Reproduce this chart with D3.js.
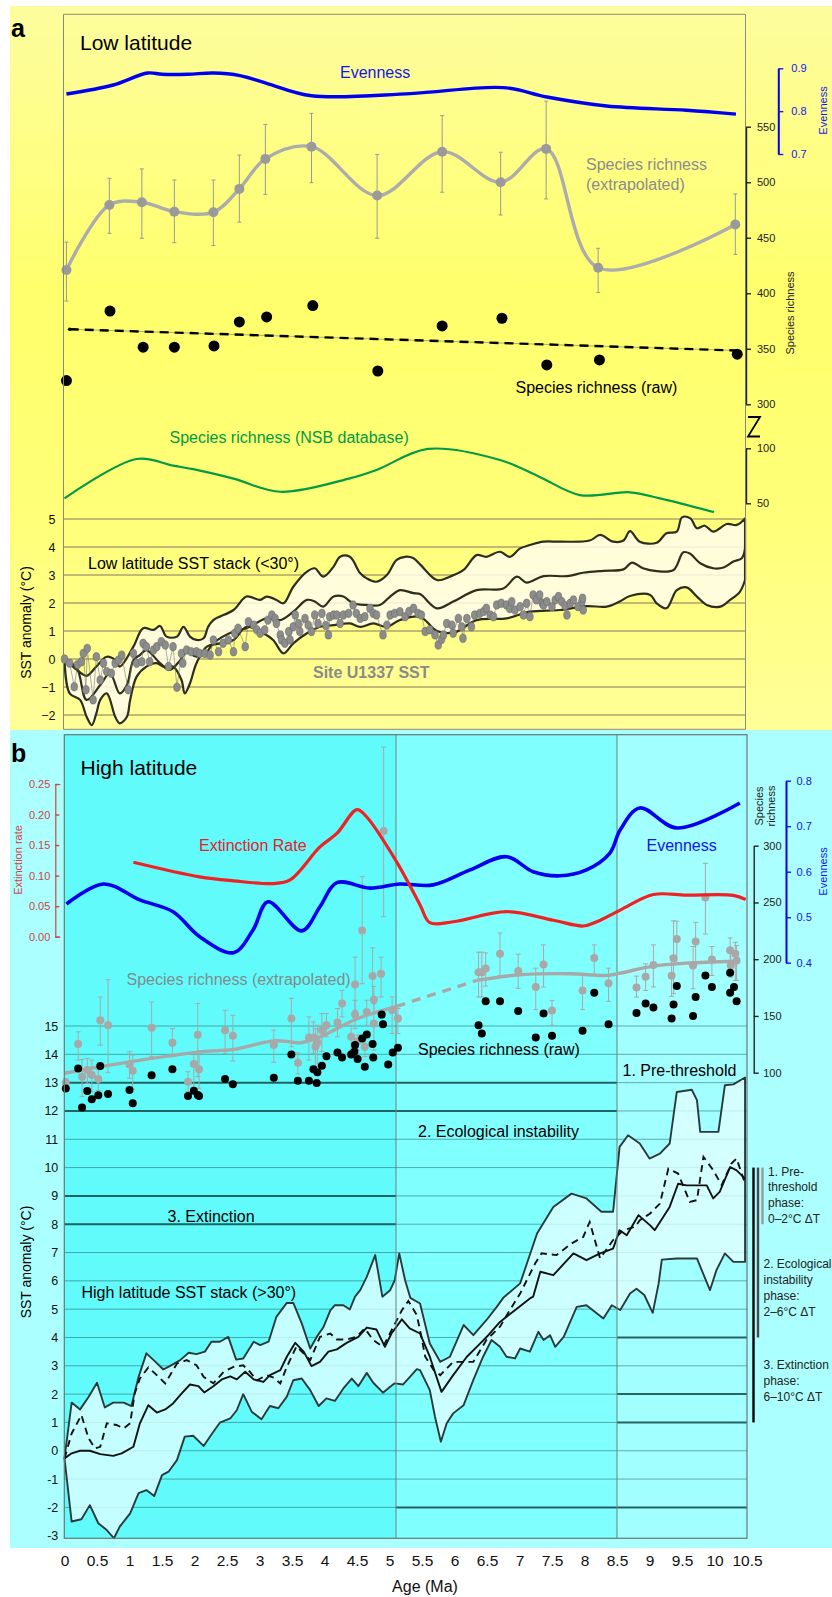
<!DOCTYPE html>
<html>
<head>
<meta charset="utf-8">
<script src="https://cdn.jsdelivr.net/npm/d3@7"></script>
<style>
  body { margin: 0; background: #fff; }
  svg { display: block; font-family: "Liberation Sans", Arial, Helvetica, sans-serif; }
</style>
</head>
<body>
<svg id="chart" width="832" height="1597"></svg>
<script>
// ===================== DATA =====================
const ageTicks = [0,0.5,1,1.5,2,2.5,3,3.5,4,4.5,5,5.5,6,6.5,7,7.5,8,8.5,9,9.5,10,10.5];

// ---- (a) Low latitude ----
const lowEvenness = [[0.03,0.840],[0.75,0.861],[1.28,0.889],[1.5,0.886],[1.9,0.886],[2.29,0.889],[2.70,0.883],[3.11,0.865],[3.80,0.836],[5.32,0.841],[6.75,0.855],[7.42,0.833],[8.34,0.812],[9.57,0.802],[10.33,0.793]];
// age, richness, lower, upper
const lowRichExtrap = [[0.03,421,393,446],[0.69,479.5,454,503.5],[1.19,482,449.5,512],[1.69,473.5,445.6,502],[2.29,473,443,502],[2.69,494,464,524.5],[3.09,521,489,552],[3.80,532,499.6,562],[4.81,488,449.5,525],[5.81,527.5,491,560],[6.71,500,470.5,527],[7.41,530,485,573],[8.21,423,400.6,440.5],[10.32,462,435,489.5]];
const lowRichRaw = [[0.03,321.4],[0.70,384],[1.21,351.4],[1.69,351.4],[2.30,352.6],[2.69,374.2],[3.11,378.7],[3.82,388.9],[4.82,330],[5.81,370.6],[6.73,377.5],[7.42,335.5],[8.23,340],[10.35,345.1]];
const lowRawTrend = [[0.08,367.6],[10.35,348.4]];
const nsbRichness = [[0,54.5],[1.11,90.3],[1.67,84.2],[1.98,81],[2.6,72.4],[3.32,60.5],[4.39,72.7],[4.8,80.3],[5.59,99.4],[6.7,89.4],[7.31,74],[7.93,57.5],[8.7,60],[9.16,54.5],[9.99,42]];
const richTicksA = [300,350,400,450,500,550];
const nsbTicksA = [50,100];
const evenTicksA = [0.7,0.8,0.9];
const sstTicksA = [-2,-1,0,1,2,3,4,5];

const lowSstUpper = [[0,0],[0.19,-0.39],[0.34,-0.60],[0.49,-0.27],[0.65,0.08],[0.78,-0.04],[0.85,-0.27],[1.06,0.44],[1.21,1.10],[1.37,1.04],[1.47,1.18],[1.57,0.80],[1.73,0.80],[1.83,1.15],[1.93,0.80],[2.03,0.68],[2.14,0.74],[2.21,1.15],[2.29,1.39],[2.60,1.75],[2.80,2.23],[3.01,2.11],[3.11,2.23],[3.26,2.11],[3.37,1.99],[3.52,2.58],[3.73,3.12],[3.85,3.24],[3.98,2.94],[4.14,3.30],[4.24,3.65],[4.39,3.65],[4.55,3.06],[4.65,2.88],[4.80,2.76],[4.96,3.00],[5.11,3.54],[5.24,3.65],[5.37,3.60],[5.47,3.38],[5.73,2.82],[5.93,2.94],[6.14,3.18],[6.34,3.71],[6.49,3.65],[6.70,3.83],[6.85,3.65],[7.01,3.95],[7.16,4.07],[7.37,4.19],[7.62,4.19],[8.08,4.23],[8.24,4.43],[8.44,4.19],[8.60,4.23],[8.70,4.57],[8.85,4.19],[9.11,4.15],[9.26,4.49],[9.42,4.55],[9.50,5.06],[9.63,5.02],[9.73,4.67],[9.85,4.76],[9.98,4.55],[10.19,4.82],[10.34,4.79],[10.47,5.02]];
const lowSstMiddle = [[0,0],[0.19,-0.33],[0.34,-1.46],[0.55,-0.93],[0.70,-0.51],[0.85,-1.23],[0.96,-0.93],[1.06,-0.04],[1.16,0.14],[1.26,0.32],[1.47,-0.15],[1.62,-0.39],[1.78,-0.04],[1.88,0.26],[2.03,0.08],[2.19,0.26],[2.29,0.56],[2.60,0.98],[2.80,1.10],[3.11,1.45],[3.32,1.39],[3.52,1.69],[3.73,2.11],[3.85,2.05],[3.98,1.87],[4.14,2.23],[4.29,2.23],[4.44,1.99],[4.65,1.93],[4.85,1.93],[5.01,2.23],[5.16,2.46],[5.37,2.35],[5.47,2.32],[5.73,1.81],[5.98,2.05],[6.34,2.46],[6.75,2.52],[6.96,2.94],[7.11,2.73],[7.37,2.96],[7.73,2.96],[7.98,3.08],[8.29,3.15],[8.60,3.20],[8.73,3.44],[8.90,3.24],[9.11,3.14],[9.37,3.18],[9.52,3.81],[9.62,3.77],[9.78,3.42],[9.98,3.24],[10.14,3.27],[10.29,3.48],[10.42,3.60],[10.47,3.95]];
const lowSstLower = [[0,0],[0.08,-1.23],[0.24,-1.46],[0.34,-2.06],[0.42,-2.36],[0.49,-1.94],[0.55,-1.46],[0.65,-1.23],[0.78,-2.06],[0.85,-2.30],[0.96,-2.06],[1.01,-1.46],[1.11,-0.63],[1.26,-0.27],[1.42,-0.15],[1.52,-0.27],[1.67,-0.27],[1.80,-0.75],[1.85,-1.23],[1.93,-0.87],[2.03,-0.15],[2.19,0.44],[2.39,0.56],[2.60,0.68],[2.80,1.15],[3.06,0.92],[3.21,0.68],[3.37,0.20],[3.52,0.56],[3.73,0.92],[3.93,1.15],[4.14,1.21],[4.39,1.27],[4.55,1.15],[4.75,1.27],[4.96,1.15],[5.16,1.39],[5.47,1.51],[5.73,1.0],[6.0,0.95],[6.34,1.39],[6.80,1.45],[7.16,1.69],[7.62,1.75],[8.03,1.89],[8.34,1.87],[8.54,2.05],[8.70,2.25],[9.01,2.29],[9.11,1.99],[9.26,1.81],[9.42,2.46],[9.57,2.56],[9.73,2.23],[9.88,1.93],[10.09,1.87],[10.24,2.11],[10.39,2.40],[10.47,2.82]];
const u1337Sst = [[0,0],[0.08,-0.15],[0.15,-0.99],[0.2,-0.2],[0.26,-0.1],[0.29,0.2],[0.33,-1.1],[0.35,0.38],[0.44,-1.46],[0.49,0.08],[0.55,-0.75],[0.6,-0.15],[0.65,-0.45],[0.72,-0.51],[0.78,-0.15],[0.83,-0.04],[0.88,0.14],[0.98,-1.1],[1.06,0.2],[1.11,-0.15],[1.19,-0.1],[1.21,0.56],[1.26,0.44],[1.31,-0.1],[1.37,0.32],[1.42,0.44],[1.49,0.62],[1.55,0.5],[1.6,-0.27],[1.67,0.44],[1.73,-1.01],[1.8,0.2],[1.82,-0.15],[1.88,0.32],[1.95,0.26],[2.03,0.26],[2.08,0.2],[2.16,0.2],[2.24,0.14],[2.29,0.68],[2.37,0.26],[2.44,0.56],[2.52,0.68],[2.6,0.26],[2.62,0.92],[2.67,1.1],[2.78,0.44],[2.83,1.33],[2.91,1.21],[2.96,1.04],[3.01,0.92],[3.08,1.04],[3.13,1.39],[3.19,1.57],[3.24,1.45],[3.26,1.27],[3.32,0.86],[3.34,0.68],[3.39,0.56],[3.45,0.98],[3.47,0.68],[3.52,1.15],[3.55,1.57],[3.6,1.27],[3.62,0.98],[3.7,1.45],[3.75,1.21],[3.8,0.98],[3.85,1.57],[3.9,1.27],[3.96,1.63],[4.02,1.2],[4.06,0.86],[4.08,1.51],[4.14,1.57],[4.19,1.57],[4.24,1.27],[4.29,1.57],[4.37,1.63],[4.44,1.93],[4.49,1.63],[4.55,1.45],[4.62,1.51],[4.7,1.81],[4.75,1.63],[4.8,1.57],[4.9,0.86],[4.96,1.21],[5.01,1.57],[5.08,1.63],[5.16,1.69],[5.24,1.51],[5.3,1.7],[5.37,1.81],[5.44,1.63],[5.49,1.57],[5.55,0.98],[5.62,1.04],[5.7,0.86],[5.75,0.5],[5.8,0.7],[5.83,0.86],[5.88,1.27],[5.96,1.21],[5.98,0.92],[6.06,1.45],[6.11,1.15],[6.13,0.74],[6.19,1.45],[6.26,1.15],[6.31,1.57],[6.39,1.63],[6.45,1.7],[6.49,1.81],[6.55,1.57],[6.6,1.51],[6.65,1.93],[6.72,1.99],[6.8,1.93],[6.85,1.8],[6.88,2.05],[6.93,1.75],[7.01,1.87],[7.06,1.57],[7.11,1.99],[7.16,1.51],[7.21,2.29],[7.26,2.11],[7.31,2.29],[7.35,2.0],[7.37,1.93],[7.42,2.05],[7.5,1.87],[7.55,2.11],[7.6,2.23],[7.65,2.05],[7.7,1.9],[7.73,1.57],[7.78,1.99],[7.83,2.11],[7.9,1.87],[7.96,2.05],[7.97,2.17],[7.98,1.75]];

// ---- (b) High latitude ----
const highExtinction = [[1.06,0.122],[2.08,0.098],[2.60,0.0915],[3.21,0.087],[3.47,0.093],[3.93,0.147],[4.19,0.169],[4.50,0.208],[4.65,0.196],[5.11,0.1225],[5.47,0.052],[5.62,0.023],[5.98,0.0245],[6.80,0.041],[7.52,0.027],[7.98,0.0175],[8.19,0.0245],[8.55,0.0436],[9.06,0.069],[9.57,0.068],[10.29,0.0676],[10.48,0.061]];
const highEvenness = [[0.03,0.529],[0.6,0.573],[1.16,0.538],[1.67,0.512],[2.08,0.457],[2.6,0.422],[2.9,0.472],[3.13,0.534],[3.65,0.470],[3.93,0.523],[4.19,0.576],[4.7,0.564],[5.16,0.573],[5.67,0.571],[6.24,0.604],[6.8,0.633],[7.21,0.600],[7.62,0.591],[8.03,0.604],[8.39,0.641],[8.55,0.692],[8.85,0.74],[9.42,0.696],[10.39,0.751]];
// age, richness, lower, upper
const highRichExtrap = [[0.02,91.2,87.2,94.8],[0.21,125.2,111.1,136.0],[0.27,96.5,79.0,111.7],[0.35,102.4,90.7,112.6],[0.42,98.0,83.1,111.1],[0.52,94.5,84.2,102.4],[0.55,146.2,124.3,166.7],[0.67,141.8,100,181.9],[1.00,107.3,95.1,118.5],[1.05,101.8,85.4,115.5],[1.34,139.5,114.1,162.3],[1.66,126.3,114.1,138.9],[1.90,92.1,83.4,100.9],[1.99,107.6,84.8,118.5],[2.05,133.4,96.5,160.9],[2.07,103.0,86.3,117.0],[2.47,137.5,117.0,155.0],[2.59,132.5,110.3,150.6],[3.22,124.3,109.1,137.5],[3.49,147.7,122.8,165.5],[3.59,108.8,98.9,117.6],[3.76,131.0,111.1,149.2],[3.83,131.0,117.0,144.8],[3.86,122.8,105.3,138.9],[3.89,126.6,105.3,141.8],[3.96,137.5,118.5,152.1],[4.03,141.8,131.6,152.1],[4.20,144.2,131.6,156.5],[4.27,160.9,149.2,172.6],[4.41,131.6,119.9,141.8],[4.47,151.2,138.9,163.8],[4.47,177.8,155.0,201.9],[4.51,127.8,119.9,133.1],[4.58,225.2,178.4,272.8],[4.62,122.8,114.1,131.6],[4.65,153.5,141.8,163.8],[4.74,185.1,163.2,210.0],[4.76,143.3,119.9,160.9],[4.76,164.3,152,176],[4.87,187.2,166.7,201.8],[4.91,312.9,237.4,386.9],[5.04,155.0,134.5,166.7],[5.13,147.7,134.5,156.5],[6.37,188.6,166.7,206.2],[6.42,188.6,166.7,206.2],[6.48,191.8,176.3,205.6],[6.70,204.7,185.7,223.1],[6.98,189.5,174.3,204.4],[7.25,175.5,155.6,192.1],[7.37,195.3,175.5,212.6],[7.50,154.9,141.8,163.7],[7.97,172.4,155.6,187.0],[8.15,201.0,185.7,212.6],[8.37,178.8,162.9,192.1],[8.80,175.0,166.6,185.1],[8.94,184.6,172.5,195.9],[9.06,194.8,175.5,212.6],[9.34,185.4,167.3,202.4],[9.37,200.9,169.6,233.8],[9.42,217.8,195.9,233.5],[9.67,194.5,174.0,211.2],[9.71,215.5,195.9,232.5],[9.86,254.4,222.2,284.5],[9.96,199.7,185.7,211.2],[10.24,207.9,197.4,218.7],[10.25,194.5,184.2,206.2],[10.32,204.7,181.3,214.9],[10.34,198.8,181.3,212.0]];
const highRichRaw = [[0.02,86.0],[0.21,103.8],[0.27,69.3],[0.35,83.9],[0.42,76.6],[0.52,80.1],[0.55,105.9],[0.67,81.3],[1.0,84.8],[1.05,73.1],[1.34,97.7],[1.66,103.0],[1.90,79.5],[1.99,84.2],[2.05,80.4],[2.07,79.5],[2.47,94.5],[2.59,89.8],[3.22,95.6],[3.49,116.1],[3.59,93.0],[3.76,93.0],[3.83,103.0],[3.88,91.0],[3.89,100.3],[3.96,106.2],[4.03,114.6],[4.20,117.9],[4.27,113.5],[4.41,116.1],[4.46,118.5],[4.47,124.3],[4.51,112.0],[4.58,130.1],[4.65,133.7],[4.62,105.3],[4.74,125.2],[4.75,113.5],[4.88,151.2],[4.90,142.7],[4.98,107.3],[5.05,117.9],[5.13,122.0],[6.37,141.8],[6.42,134.5],[6.48,162.9],[6.70,162.9],[6.98,154.3],[7.25,131.0],[7.37,152.2],[7.50,132.5],[7.97,136.9],[8.15,170.5],[8.37,142.7],[8.80,152.7],[8.94,160.9],[9.06,157.4],[9.34,147.7],[9.37,160.0],[9.42,176.3],[9.67,150.0],[9.71,166.7],[9.86,185.7],[9.96,175.4],[10.24,188.0],[10.24,170.5],[10.30,175.4],[10.34,162.9]];
const highRichTrend = [[0,99.5],[0.55,105.3],[2.08,118.4],[2.6,120.5],[3.21,128],[3.47,127.2],[3.62,126.3],[3.93,131.6],[4.39,144.7],[4.65,150.6],[5.11,158.5],[6.34,181.3],[7.01,186.3],[7.78,187.2],[8.34,185.7],[8.55,187.7],[9.06,193.9],[9.57,196.5],[10.33,198.2]];
const trendGap = [5.11, 6.34];   // interval drawn dashed
const extTicksB = [0,0.05,0.10,0.15,0.20,0.25];
const evenTicksB = [0.4,0.5,0.6,0.7,0.8];
const richTicksB = [100,150,200,250,300];
const sstTicksB = [-3,-2,-1,0,1,2,3,4,5,6,7,8,9,10,11,12,13,14,15];

const highSstUpper = [[0,-0.27],[0.11,1.70],[0.24,1.46],[0.37,1.90],[0.50,2.40],[0.62,1.53],[0.75,1.70],[0.91,1.70],[1.03,1.58],[1.14,2.61],[1.26,3.44],[1.40,3.14],[1.52,2.87],[1.62,2.99],[1.78,3.20],[1.91,3.46],[2.03,3.41],[2.16,3.50],[2.26,3.85],[2.39,3.85],[2.52,4.02],[2.64,3.22],[2.75,3.26],[2.91,3.85],[3.01,3.73],[3.14,3.85],[3.26,4.73],[3.42,5.22],[3.52,5.22],[3.65,4.50],[3.78,3.61],[3.88,4.02],[3.98,4.35],[4.09,4.96],[4.16,5.14],[4.29,5.14],[4.39,4.99],[4.47,5.44],[4.55,5.67],[4.65,6.14],[4.78,6.91],[4.89,5.44],[5.01,5.67],[5.08,6.02],[5.15,6.97],[5.24,6.02],[5.32,5.4],[5.47,5.20],[5.62,3.79],[5.78,3.14],[5.93,3.32],[6.14,4.44],[6.29,4.08],[6.49,4.61],[6.65,5.08],[6.75,5.40],[7.01,5.91],[7.27,7.67],[7.52,8.61],[7.80,9.08],[8.03,8.91],[8.26,8.44],[8.44,8.44],[8.54,10.73],[8.67,11.14],[8.85,10.85],[9.00,10.32],[9.16,10.49],[9.31,10.85],[9.42,12.67],[9.65,12.75],[9.73,12.38],[9.78,11.26],[10.06,11.26],[10.16,12.91],[10.29,12.94],[10.47,13.18]];
const highSstMiddle = [[0,-0.27],[0.11,-0.09],[0.24,0],[0.39,0],[0.55,-0.12],[0.75,-0.18],[0.88,-0.09],[1.06,0.14],[1.16,0.97],[1.29,1.61],[1.42,1.35],[1.55,1.46],[1.67,1.67],[1.80,2.02],[1.93,2.34],[2.06,2.28],[2.15,2.06],[2.29,2.28],[2.42,2.52],[2.55,2.63],[2.65,2.52],[2.78,2.79],[2.91,2.52],[3.06,2.43],[3.16,2.67],[3.32,2.85],[3.42,3.32],[3.55,3.81],[3.68,3.50],[3.80,2.99],[3.93,3.14],[4.06,3.50],[4.19,3.58],[4.34,3.81],[4.52,4.02],[4.65,4.35],[4.80,4.28],[4.93,3.67],[5.03,4.14],[5.19,4.64],[5.31,4.32],[5.47,4.14],[5.62,3.32],[5.80,2.08],[5.98,2.67],[6.19,3.32],[6.37,3.73],[6.52,4.08],[6.70,4.55],[6.90,4.91],[7.16,5.38],[7.21,5.44],[7.32,6.32],[7.52,6.20],[7.83,6.97],[8.03,6.73],[8.24,6.97],[8.44,7.14],[8.54,7.79],[8.65,7.61],[8.83,8.32],[9.01,7.96],[9.08,7.79],[9.31,8.61],[9.44,9.43],[9.57,9.37],[9.88,9.37],[9.98,8.91],[10.08,9.14],[10.24,10.02],[10.34,9.90],[10.47,9.61]];
const highSstDashed = [[0,-0.27],[0.11,0.61],[0.26,1.26],[0.37,0.44],[0.47,0.08],[0.55,0.14],[0.65,0.97],[0.80,0.91],[0.91,0.79],[1.01,0.97],[1.08,2.02],[1.16,2.55],[1.29,2.94],[1.42,2.67],[1.55,2.38],[1.73,3.08],[1.88,3.20],[2.03,3.02],[2.14,2.61],[2.29,2.38],[2.45,2.79],[2.60,2.96],[2.75,3.02],[2.85,2.79],[2.96,2.49],[3.11,2.67],[3.22,2.58],[3.32,2.38],[3.42,2.96],[3.57,3.69],[3.78,3.20],[3.93,4.02],[4.09,4.14],[4.19,3.93],[4.34,3.93],[4.49,4.02],[4.62,4.32],[4.75,3.91],[4.90,3.67],[5.06,4.38],[5.19,4.96],[5.29,5.29],[5.42,4.79],[5.47,4.26],[5.55,3.32],[5.68,2.85],[5.78,2.67],[5.98,3.14],[6.29,3.14],[6.49,3.91],[6.70,4.38],[6.85,4.96],[7.01,5.55],[7.24,6.61],[7.34,6.97],[7.57,6.91],[7.80,7.32],[7.98,7.55],[8.08,8.08],[8.24,6.79],[8.44,7.44],[8.60,7.79],[8.78,7.91],[8.85,8.14],[9.01,8.38],[9.16,8.73],[9.29,9.96],[9.44,9.79],[9.62,8.79],[9.73,8.85],[9.83,10.38],[9.98,9.91],[10.11,9.38],[10.26,10.14],[10.34,10.32],[10.47,9.44]];
const highSstLower = [[0,-0.27],[0.11,-2.50],[0.26,-2.42],[0.39,-1.92],[0.52,-2.56],[0.65,-2.80],[0.76,-3.09],[0.85,-2.68],[1.01,-2.21],[1.14,-1.50],[1.26,-1.39],[1.38,-1.60],[1.50,-0.86],[1.60,-0.74],[1.73,-0.33],[1.85,0.50],[1.98,0.53],[2.14,0.17],[2.29,0.67],[2.39,0.99],[2.55,1.14],[2.65,1.43],[2.75,2.00],[2.88,1.38],[3.03,1.11],[3.16,1.58],[3.29,1.50],[3.42,1.91],[3.52,2.49],[3.65,2.55],[3.78,2.14],[3.91,1.58],[4.03,1.85],[4.16,1.76],[4.29,2.20],[4.42,2.55],[4.52,2.28],[4.65,2.75],[4.75,2.40],[4.90,2.05],[5.01,2.26],[5.08,2.38],[5.21,2.34],[5.29,2.55],[5.42,2.88],[5.47,2.85],[5.62,2.14],[5.70,1.20],[5.79,0.32],[5.88,0.97],[5.98,1.32],[6.14,1.61],[6.29,2.50],[6.44,3.32],[6.57,3.91],[6.70,3.67],[6.80,3.32],[6.93,3.26],[7.01,3.61],[7.16,3.50],[7.29,4.20],[7.37,3.91],[7.47,4.08],[7.55,3.67],[7.68,4.02],[7.88,5.08],[8.03,5.14],[8.29,4.67],[8.42,5.14],[8.55,4.97],[8.70,5.55],[8.80,5.72],[8.92,5.5],[9.05,4.87],[9.14,5.9],[9.19,6.75],[9.42,6.79],[9.73,6.79],[9.93,5.67],[10.03,6.38],[10.16,6.97],[10.29,6.67],[10.47,6.67]];

// period boundaries (Ma) and threshold guide lines in (b): SST, from age, to age
const periodBreaks = [5.1, 8.5];
const thresholdLines = [[13,0,8.5],[12,0,8.5],[9,0,5.1],[8,0,5.1],[4,8.5,10.5],[2,8.5,10.5],[1,8.5,10.5],[-2,5.1,10.5]];
// phase bars: SST top, SST bottom
const phaseBars = [[10,1],[10,4],[10,8]];

// ===================== DRAWING =====================
const svg = d3.select("#chart");
const FONT = "'Liberation Sans', Arial, Helvetica, sans-serif";

const x = d3.scaleLinear().domain([0,10.5]).range([64.5,747]);

// panel (a) scales
const yRichA = d3.scaleLinear().domain([300,550]).range([404.3,126.7]);
const yNsbA  = d3.scaleLinear().domain([50,100]).range([503.3,448.3]);
const yEvenA = d3.scaleLinear().domain([0.7,0.9]).range([154,68.3]);
const ySstA  = d3.scaleLinear().domain([-2.5,5]).range([729,519]);

// panel (b) scales
const yExtB  = d3.scaleLinear().domain([0,0.25]).range([936.7,784]);
const yEvenB = d3.scaleLinear().domain([0.4,0.8]).range([962.7,780.7]);
const yRichB = d3.scaleLinear().domain([100,300]).range([1072.7,845.7]);
const ySstB  = d3.scaleLinear().domain([-3,15]).range([1535.7,1026]);

const smooth = d3.curveCatmullRom.alpha(0.5);
const lineOf = (ys, curve) => d3.line().x(d => x(d[0])).y(d => ys(d[1])).curve(curve || smooth);

// ---------- backgrounds ----------
const defs = svg.append("defs");
const gA = defs.append("linearGradient").attr("id","bgA").attr("x1",0).attr("y1",0).attr("x2",0).attr("y2",1);
[["0%","#fdfd9e"],["40%","#ffff6c"],["70%","#ffff78"],["100%","#ffff98"]].forEach(s =>
  gA.append("stop").attr("offset", s[0]).attr("stop-color", s[1]));
svg.append("rect").attr("x",10).attr("y",6).attr("width",822).attr("height",724).attr("fill","url(#bgA)");
svg.append("rect").attr("x",10).attr("y",730).attr("width",822).attr("height",818).attr("fill","#acffff");

const bTop = 734.7, bBot = 1538.3;
const sections = [[0,periodBreaks[0],"#62fbfb"],[periodBreaks[0],periodBreaks[1],"#80ffff"],[periodBreaks[1],10.5,"#a2ffff"]];
svg.append("g").selectAll("rect").data(sections).join("rect")
  .attr("x", d => x(d[0])).attr("y", bTop)
  .attr("width", d => x(d[1]) - x(d[0])).attr("height", bBot - bTop)
  .attr("fill", d => d[2]);

// ================= PANEL A =================
const gAp = svg.append("g");

// SST grid
gAp.append("g").selectAll("line").data(sstTicksA).join("line")
  .attr("x1", 63.5).attr("x2", 745.5)
  .attr("y1", d => ySstA(d)).attr("y2", d => ySstA(d))
  .attr("stroke", "#ada36c").attr("stroke-width", 1.3);

// SST stack band
const lineSstA = lineOf(ySstA);
const bandA = lineSstA(lowSstUpper) + lineSstA(lowSstLower.slice().reverse()).replace(/^M/, "L") + "Z";
gAp.append("path").attr("d", bandA).attr("fill", "rgba(255,253,234,0.85)")
  .attr("stroke", "#2e2e1e").attr("stroke-width", 2.2).attr("stroke-linejoin","round");
gAp.append("path").attr("d", lineSstA(lowSstMiddle)).attr("fill","none")
  .attr("stroke", "#2e2e1e").attr("stroke-width", 2.2);

// U1337 record
gAp.append("path").attr("d", d3.line().x(d => x(d[0])).y(d => ySstA(d[1]))(u1337Sst))
  .attr("fill","none").attr("stroke","#777").attr("stroke-width",0.6);
gAp.append("g").selectAll("ellipse").data(u1337Sst).join("ellipse")
  .attr("cx", d => x(d[0])).attr("cy", d => ySstA(d[1]))
  .attr("rx", 3.3).attr("ry", 4.2)
  .attr("fill", "#8c8c8c").attr("stroke","#6a6a6a").attr("stroke-width",0.6);

// evenness
gAp.append("path").attr("d", lineOf(yEvenA)(lowEvenness)).attr("fill","none")
  .attr("stroke","#0000ee").attr("stroke-width",3.4);

// extrapolated richness
gAp.append("path").attr("d", lineOf(yRichA)(lowRichExtrap)).attr("fill","none")
  .attr("stroke","#acacac").attr("stroke-width",3.4);
const ebA = gAp.append("g").attr("stroke","#9a9a9a").attr("stroke-width",1);
ebA.selectAll(".v").data(lowRichExtrap).join("line")
  .attr("x1", d => x(d[0])).attr("x2", d => x(d[0]))
  .attr("y1", d => yRichA(d[2])).attr("y2", d => yRichA(d[3]));
ebA.selectAll(".t").data(lowRichExtrap.flatMap(d => [[d[0],d[2]],[d[0],d[3]]])).join("line")
  .attr("x1", d => x(d[0]) - 2).attr("x2", d => x(d[0]) + 2)
  .attr("y1", d => yRichA(d[1])).attr("y2", d => yRichA(d[1]));
gAp.append("g").selectAll("circle").data(lowRichExtrap).join("circle")
  .attr("cx", d => x(d[0])).attr("cy", d => yRichA(d[1])).attr("r", 5)
  .attr("fill","#9a9a9a");

// raw richness + trend
gAp.append("path").attr("d", d3.line().x(d => x(d[0])).y(d => yRichA(d[1]))(lowRawTrend))
  .attr("stroke","#9a9a60").attr("stroke-width",0.8).attr("fill","none");
gAp.append("path").attr("d", d3.line().x(d => x(d[0])).y(d => yRichA(d[1]))(lowRawTrend))
  .attr("stroke","#000").attr("stroke-width",2.4).attr("stroke-dasharray","9,6").attr("fill","none");
gAp.append("circle").attr("cx", x(lowRawTrend[0][0])).attr("cy", yRichA(lowRawTrend[0][1])).attr("r",1.8).attr("fill","#000");
gAp.append("g").selectAll("circle").data(lowRichRaw).join("circle")
  .attr("cx", d => x(d[0])).attr("cy", d => yRichA(d[1])).attr("r", 5.5).attr("fill","#000");

// NSB
gAp.append("path").attr("d", lineOf(yNsbA)(nsbRichness)).attr("fill","none")
  .attr("stroke","#009a44").attr("stroke-width",2.2);

// frame of panel a
gAp.append("path").attr("d", "M63.5,729.3V14.3H745.5V729.3H63.5")
  .attr("fill","none").attr("stroke","#8a8a7a").attr("stroke-width",1);

// texts panel a
const txt = (g, s, xx, yy, size, color, weight, anchor) =>
  g.append("text").attr("x", xx).attr("y", yy).attr("font-size", size).attr("fill", color || "#000")
   .attr("font-weight", weight || "normal").attr("text-anchor", anchor || "start").text(s);
const rtxt = (g, s, xx, yy, size, color) =>
  g.append("text").attr("transform", `translate(${xx},${yy}) rotate(-90)`).attr("text-anchor","middle")
   .attr("font-size", size).attr("fill", color || "#000").text(s);

txt(svg, "a", 11, 37, 25, "#000", "bold");
txt(gAp, "Low latitude", 80, 50, 21);
txt(gAp, "Evenness", 340, 78, 16, "#1414f0");
txt(gAp, "Species richness", 586, 170, 16, "#8c8c8c");
txt(gAp, "(extrapolated)", 586, 189.5, 16, "#8c8c8c");
txt(gAp, "Species richness (raw)", 515.5, 392.5, 16, "#000");
txt(gAp, "Species richness (NSB database)", 169.5, 442.5, 16, "#009a44");
txt(gAp, "Low latitude SST stack (<30°)", 88, 569, 16, "#000");
txt(gAp, "Site U1337 SST", 313, 678, 16, "#8a8a8a", "bold");
rtxt(gAp, "SST anomaly (°C)", 31, 622.5, 14);
rtxt(gAp, "Species richness", 794, 313, 11, "#222");
rtxt(gAp, "Evenness", 826.5, 110.5, 11, "#1414f0");

// axes panel a
function styleAxis(g, color, fs) {
  g.selectAll("path.domain").attr("stroke", color).attr("stroke-width", 1.4);
  g.selectAll(".tick line").attr("stroke", color).attr("stroke-width", 1.4);
  g.selectAll(".tick text").attr("fill", color).attr("font-size", fs).attr("font-family", FONT);
}
const axRA = svg.append("g").attr("transform","translate(746,0)")
  .call(d3.axisRight(yRichA).tickValues(richTicksA).tickSize(5).tickSizeOuter(0).tickPadding(6).tickFormat(d3.format("d")));
styleAxis(axRA, "#222", 11);
const axNA = svg.append("g").attr("transform","translate(746,0)")
  .call(d3.axisRight(yNsbA).tickValues(nsbTicksA).tickSize(5).tickSizeOuter(0).tickPadding(6).tickFormat(d3.format("d")));
styleAxis(axNA, "#222", 11);
// axis break mark
svg.append("path").attr("d", "M748,417H760L748,436.5H760").attr("fill","none").attr("stroke","#000").attr("stroke-width",1.8);
const axEA = svg.append("g").attr("transform","translate(778.3,0)")
  .call(d3.axisRight(yEvenA).tickValues(evenTicksA).tickSize(5).tickSizeOuter(0).tickPadding(8).tickFormat(d3.format(".1f")));
styleAxis(axEA, "#1414f0", 11);
axEA.selectAll("path.domain").attr("stroke","#0000ee").attr("stroke-width",2);
const axSA = svg.append("g").attr("transform","translate(63.5,0)")
  .call(d3.axisLeft(ySstA).tickValues(sstTicksA).tickSize(0).tickPadding(8));
axSA.select("path.domain").remove();
axSA.selectAll("text").attr("font-size",12.5).attr("fill","#111").attr("font-family",FONT);

// ================= PANEL B =================
const gB = svg.append("g");

// grid
gB.append("g").selectAll("line").data(sstTicksB.filter(d => d > -3)).join("line")
  .attr("x1", 64.3).attr("x2", 747)
  .attr("y1", d => ySstB(d)).attr("y2", d => ySstB(d))
  .attr("stroke", "rgba(30,90,90,0.5)").attr("stroke-width", 1);
gB.append("g").selectAll("line").data(thresholdLines).join("line")
  .attr("x1", d => x(d[1])).attr("x2", d => x(d[2]))
  .attr("y1", d => ySstB(d[0])).attr("y2", d => ySstB(d[0]))
  .attr("stroke", "rgba(25,80,80,0.85)").attr("stroke-width", 2);

// SST stack band (records drawn as straight segments)
const lineSstB = lineOf(ySstB, d3.curveLinear);
const bandB = lineSstB(highSstUpper) + lineSstB(highSstLower.slice().reverse()).replace(/^M/, "L") + "Z";
gB.append("path").attr("d", bandB).attr("fill", "rgba(225,255,255,0.78)")
  .attr("stroke", "#2a3a3a").attr("stroke-width", 1.9).attr("stroke-linejoin","round");
gB.append("path").attr("d", lineSstB(highSstMiddle)).attr("fill","none")
  .attr("stroke", "#111").attr("stroke-width", 1.9).attr("stroke-linejoin","round");
gB.append("path").attr("d", lineSstB(highSstDashed)).attr("fill","none")
  .attr("stroke", "#111").attr("stroke-width", 1.9).attr("stroke-dasharray","7,5");

// period dividers
gB.append("g").selectAll("line").data(periodBreaks).join("line")
  .attr("x1", d => x(d)).attr("x2", d => x(d)).attr("y1", bTop).attr("y2", bBot)
  .attr("stroke", "#6f7f7f").attr("stroke-width", 1);

// richness
const ebB = gB.append("g").attr("stroke","#a8a8a8").attr("stroke-width",1);
ebB.selectAll(".v").data(highRichExtrap).join("line")
  .attr("x1", d => x(d[0])).attr("x2", d => x(d[0]))
  .attr("y1", d => yRichB(d[2])).attr("y2", d => yRichB(d[3]));
ebB.selectAll(".t").data(highRichExtrap.flatMap(d => [[d[0],d[2]],[d[0],d[3]]])).join("line")
  .attr("x1", d => x(d[0]) - 2.5).attr("x2", d => x(d[0]) + 2.5)
  .attr("y1", d => yRichB(d[1])).attr("y2", d => yRichB(d[1]));
gB.append("g").selectAll("circle").data(highRichExtrap).join("circle")
  .attr("cx", d => x(d[0])).attr("cy", d => yRichB(d[1])).attr("r", 4).attr("fill","#a8a8a8");
const trendLine = lineOf(yRichB);
gB.append("path").attr("d", trendLine(highRichTrend.filter(d => d[0] <= trendGap[0])))
  .attr("fill","none").attr("stroke","#a8a8a8").attr("stroke-width",3.4);
gB.append("path").attr("d", trendLine(highRichTrend.filter(d => d[0] >= trendGap[0] && d[0] <= trendGap[1])))
  .attr("fill","none").attr("stroke","#a8a8a8").attr("stroke-width",3.4).attr("stroke-dasharray","9,7");
gB.append("path").attr("d", trendLine(highRichTrend.filter(d => d[0] >= trendGap[1])))
  .attr("fill","none").attr("stroke","#a8a8a8").attr("stroke-width",3.4);
gB.append("g").selectAll("circle").data(highRichRaw).join("circle")
  .attr("cx", d => x(d[0])).attr("cy", d => yRichB(d[1])).attr("r", 4).attr("fill","#000");

// evenness & extinction
gB.append("path").attr("d", lineOf(yEvenB)(highEvenness)).attr("fill","none")
  .attr("stroke","#0000ee").attr("stroke-width",3.6);
gB.append("path").attr("d", lineOf(yExtB)(highExtinction)).attr("fill","none")
  .attr("stroke","#ee2222").attr("stroke-width",3.2);

// frame panel b
gB.append("rect").attr("x",64.3).attr("y",bTop).attr("width",747-64.3).attr("height",bBot-bTop)
  .attr("fill","none").attr("stroke","#667777").attr("stroke-width",1.2);

// texts panel b
txt(svg, "b", 11, 762, 25, "#000", "bold");
txt(gB, "High latitude", 80.5, 775, 21);
txt(gB, "Extinction Rate", 199, 850.5, 16, "#e8202a");
txt(gB, "Evenness", 646.5, 850.5, 16, "#1414f0");
txt(gB, "Species richness (extrapolated)", 126.5, 985, 16, "#7d8d8d");
txt(gB, "Species richness (raw)", 418, 1055, 16, "#000");
txt(gB, "1. Pre-threshold", 622.5, 1076, 16, "#000");
txt(gB, "2. Ecological instability", 418, 1136.5, 16, "#000");
txt(gB, "3. Extinction", 167.5, 1221.5, 16, "#000");
txt(gB, "High latitude SST stack (>30°)", 81.5, 1297.5, 16, "#000");
rtxt(gB, "SST anomaly (°C)", 31, 1262, 14);
rtxt(gB, "Extinction rate", 21.5, 860, 11, "#d04444");
rtxt(gB, "Species", 762.5, 806, 11, "#222");
rtxt(gB, "richness", 775, 806, 11, "#222");
rtxt(gB, "Evenness", 827, 871.5, 11, "#1414f0");

// phase bars and notes
const barX = [753.5, 758, 762.5], barC = ["#000", "#4a4a4a", "#9a9a9a"];
gB.append("g").selectAll("line").data(phaseBars).join("line")
  .attr("x1", (d,i) => barX[i]).attr("x2", (d,i) => barX[i])
  .attr("y1", d => ySstB(d[0])).attr("y2", d => ySstB(d[1]))
  .attr("stroke", (d,i) => barC[i]).attr("stroke-width", 2.4);
const notes = [
  [768, 1175.5, ["1. Pre-", "threshold", "phase:", "0–2°C ΔT"]],
  [763.5, 1268, ["2. Ecological", "instability", "phase:", "2–6°C ΔT"]],
  [763.5, 1369, ["3. Extinction", "phase:", "6–10°C ΔT"]]
];
notes.forEach(n => {
  const t = gB.append("text").attr("x", n[0]).attr("y", n[1]).attr("font-size", 12).attr("fill","#222");
  n[2].forEach((s, i) => t.append("tspan").attr("x", n[0]).attr("dy", i ? 15.9 : 0).text(s));
});

// axes panel b
const axExt = svg.append("g").attr("transform","translate(55.3,0)")
  .call(d3.axisLeft(yExtB).tickValues(extTicksB).tickSize(-4).tickSizeOuter(-5).tickPadding(5).tickFormat(d3.format(".2f")));
styleAxis(axExt, "#d04444", 11);
axExt.selectAll("path.domain").attr("stroke-width",1.2);
const axRB = svg.append("g").attr("transform","translate(753.7,0)")
  .call(d3.axisRight(yRichB).tickValues(richTicksB).tickSize(5).tickSizeOuter(0).tickPadding(4.5).tickFormat(d3.format("d")));
styleAxis(axRB, "#222", 11);
const axEB = svg.append("g").attr("transform","translate(786,0)")
  .call(d3.axisRight(yEvenB).tickValues(evenTicksB).tickSize(5).tickSizeOuter(0).tickPadding(5.5).tickFormat(d3.format(".1f")));
styleAxis(axEB, "#1414f0", 11);
axEB.selectAll("path.domain").attr("stroke","#0000ee").attr("stroke-width",2);
const axSB = svg.append("g").attr("transform","translate(64.3,0)")
  .call(d3.axisLeft(ySstB).tickValues(sstTicksB).tickSize(0).tickPadding(6).tickFormat(d => String(d)));
axSB.select("path.domain").remove();
axSB.selectAll("text").attr("font-size",12.5).attr("fill","#111").attr("font-family",FONT);

// age axis
const axAge = svg.append("g").attr("transform","translate(0,1548)")
  .call(d3.axisBottom(x).tickValues(ageTicks).tickSize(0).tickPadding(7).tickFormat(d => String(d)));
axAge.select("path.domain").remove();
axAge.selectAll("text").attr("font-size",15.5).attr("fill","#111").attr("font-family",FONT);
txt(svg, "Age (Ma)", 425, 1592, 16, "#111", "normal", "middle");
</script>
</body>
</html>
